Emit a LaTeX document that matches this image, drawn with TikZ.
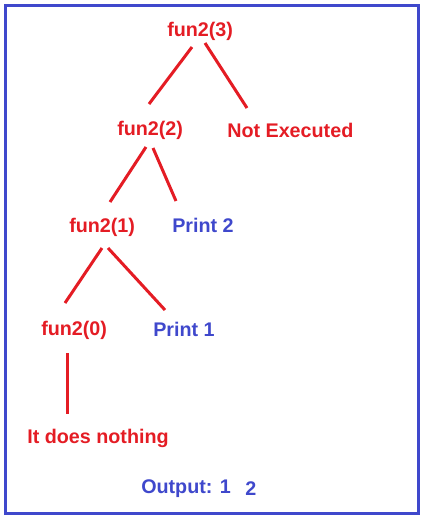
\documentclass[tikz,border=0pt]{standalone}
\usepackage{fontspec}
\setmainfont{Liberation Sans}
\usetikzlibrary{calc}
\definecolor{pred}{RGB}{228,28,36}
\definecolor{pblue}{RGB}{63,72,204}
\begin{document}
\begin{tikzpicture}[x=0.75pt,y=-0.75pt,
  lbl/.style={anchor=base west,inner sep=0pt,font=\fontsize{14.8}{17}\selectfont\bfseries},
  redt/.style={lbl,text=pred},
  bluet/.style={lbl,text=pblue},
  edge/.style={draw=pred,line width=2.25pt}]
\useasboundingbox (0,0) rectangle (425,519);
\draw[pblue,line width=2.4pt] (5.5,5.5) rectangle (418.5,513.5);
\node[redt] (f3) at (167,36) {fun2(3)};
\node[redt] (f2) at (117,135) {fun2(2)};
\node[redt] (ne) at (227,137) {Not Executed};
\node[redt] (f1) at (69,232) {fun2(1)};
\node[bluet] (p2) at (172,232) {Print 2};
\node[redt] (f0) at (41,335) {fun2(0)};
\node[bluet] (p1) at (153,336) {Print 1};
\node[redt] (nth) at (27,443) {It does nothing};
\node[bluet] (out) at (141,493) {Output: 1};
\node[bluet] (two) at (245,495) {2};
\draw[edge] ($(f3.base west)+(25,11)$) -- ($(f2.base west)+(32,-31)$);
\draw[edge] ($(f3.base west)+(38,7)$) -- ($(ne.base west)+(20,-29)$);
\draw[edge] ($(f2.base west)+(29,12)$) -- ($(f1.base west)+(41,-30)$);
\draw[edge] ($(f2.base west)+(36,13)$) -- ($(p2.base west)+(4,-31)$);
\draw[edge] ($(f1.base west)+(33,16)$) -- ($(f0.base west)+(24,-32)$);
\draw[edge] ($(f1.base west)+(39,16)$) -- ($(p1.base west)+(12,-26)$);
\draw[edge] ($(f0.base west)+(26,18)$) -- ($(nth.base west)+(40,-29)$);
\end{tikzpicture}
\end{document}
